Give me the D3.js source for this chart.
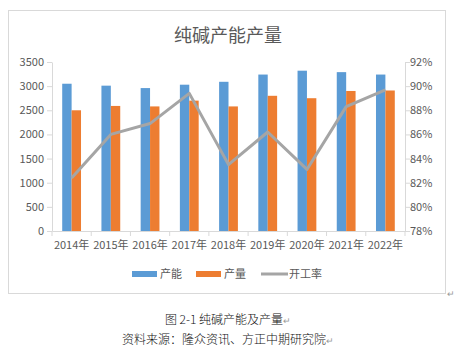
<!DOCTYPE html>
<html>
<head>
<meta charset="utf-8">
<script src="https://cdn.jsdelivr.net/npm/d3@7"></script>
<style>
  body { margin: 0; background: #fff; font-family: "Noto Sans CJK SC", "Noto Sans", sans-serif; }
  .axis text { fill: #595959; font-size: 11px; font-family: "Noto Sans CJK SC", sans-serif; }
  .axis line, .axis path { stroke: #d9d9d9; }
</style>
</head>
<body>
<div id="chart"></div>
<script>
var years = ["2014年", "2015年", "2016年", "2017年", "2018年", "2019年", "2020年", "2021年", "2022年"];
var capacity = [3050, 3010, 2960, 3030, 3090, 3240, 3320, 3290, 3240];
var output = [2500, 2590, 2580, 2700, 2580, 2800, 2750, 2900, 2910];
var rate = [82.4, 86.0, 86.9, 89.4, 83.5, 86.2, 83.1, 88.3, 89.7];
var leftTicks = [0, 500, 1000, 1500, 2000, 2500, 3000, 3500];
var rightTicks = [78, 80, 82, 84, 86, 88, 90, 92];

var width = 465, height = 351;
var plot = {left: 52, right: 405, top: 62, bottom: 231};

var svg = d3.select("#chart").append("svg")
    .attr("width", width)
    .attr("height", height);

// chart frame
svg.append("rect")
    .attr("x", 8.5).attr("y", 10.5)
    .attr("width", 437).attr("height", 283)
    .attr("fill", "#fff")
    .attr("stroke", "#d9d9d9");

svg.append("text")
    .attr("x", 228).attr("y", 42)
    .attr("text-anchor", "middle")
    .attr("fill", "#595959")
    .style("font-size", "18px")
    .text("纯碱产能产量");

var x = d3.scaleBand().domain(years).range([plot.left, plot.right]);
var yL = d3.scaleLinear().domain([0, 3500]).range([plot.bottom, plot.top]);
var yR = d3.scaleLinear().domain([78, 92]).range([plot.bottom, plot.top]);

var barW = 9.4;

// axes
svg.append("g")
    .attr("class", "axis")
    .attr("transform", "translate(" + plot.left + ",0)")
    .call(d3.axisLeft(yL).tickValues(leftTicks).tickSize(5).tickSizeOuter(0)
      .tickFormat(d3.format("d")))
    .call(function(g) { g.selectAll("text").attr("x", -8); });

svg.append("g")
    .attr("class", "axis")
    .attr("transform", "translate(" + plot.right + ",0)")
    .call(d3.axisRight(yR).tickValues(rightTicks).tickSize(5).tickSizeOuter(0)
      .tickFormat(function(d) { return d + "%"; }))
    .call(function(g) { g.selectAll("text").attr("x", 5); });

var xAxis = svg.append("g")
    .attr("class", "axis")
    .attr("transform", "translate(0," + plot.bottom + ")")
    .call(d3.axisBottom(x).tickSize(0).tickSizeOuter(0).tickPadding(10));
// category separators
xAxis.selectAll(".sep")
    .data(years.concat(["end"]))
    .enter().append("line")
    .attr("x1", function(d, i) { return plot.left + i * x.step(); })
    .attr("x2", function(d, i) { return plot.left + i * x.step(); })
    .attr("y1", 0).attr("y2", 5)
    .attr("stroke", "#d9d9d9");

// bars
svg.selectAll(".cap")
    .data(capacity)
    .enter().append("rect")
    .attr("x", function(d, i) { return x(years[i]) + x.bandwidth() / 2 - barW; })
    .attr("y", function(d) { return yL(d); })
    .attr("width", barW)
    .attr("height", function(d) { return plot.bottom - yL(d); })
    .attr("fill", "#5b9bd5");

svg.selectAll(".out")
    .data(output)
    .enter().append("rect")
    .attr("x", function(d, i) { return x(years[i]) + x.bandwidth() / 2; })
    .attr("y", function(d) { return yL(d); })
    .attr("width", barW)
    .attr("height", function(d) { return plot.bottom - yL(d); })
    .attr("fill", "#ed7d31");

var line = d3.line()
    .x(function(d, i) { return x(years[i]) + x.bandwidth() / 2; })
    .y(function(d) { return yR(d); });

svg.append("path")
    .datum(rate)
    .attr("d", line)
    .attr("fill", "none")
    .attr("stroke", "#a5a5a5")
    .attr("stroke-width", 3)
    .attr("stroke-linejoin", "round");

// legend
var legend = svg.append("g").attr("transform", "translate(0,274)");
var items = [
  {name: "产能", color: "#5b9bd5", type: "rect", x: 132},
  {name: "产量", color: "#ed7d31", type: "rect", x: 196},
  {name: "开工率", color: "#a5a5a5", type: "line", x: 261}
];
items.forEach(function(it) {
  if (it.type === "rect") {
    legend.append("rect").attr("x", it.x).attr("y", -3).attr("width", 25).attr("height", 6).attr("fill", it.color);
  } else {
    legend.append("line").attr("x1", it.x).attr("x2", it.x + 27).attr("y1", 0).attr("y2", 0)
      .attr("stroke", it.color).attr("stroke-width", 3);
  }
  legend.append("text")
    .attr("x", it.x + 28)
    .attr("y", 4)
    .attr("fill", "#595959")
    .style("font-size", "11px")
    .text(it.name);
});

// paragraph marks + caption
svg.append("text").attr("x", 447).attr("y", 297).attr("fill", "#999").style("font-size", "9px").text("↵");

var cap1 = svg.append("text")
    .attr("x", 228).attr("y", 324)
    .attr("text-anchor", "middle")
    .attr("fill", "#111")
    .style("font-size", "12px")
    .style("font-weight", 300);
cap1.append("tspan").text("图 2-1 纯碱产能及产量");
cap1.append("tspan").attr("fill", "#999").style("font-size", "9px").text("↵");

var cap2 = svg.append("text")
    .attr("x", 228).attr("y", 344)
    .attr("text-anchor", "middle")
    .attr("fill", "#111")
    .style("font-size", "12px")
    .style("font-weight", 300);
cap2.append("tspan").text("资料来源：隆众资讯、方正中期研究院");
cap2.append("tspan").attr("fill", "#999").style("font-size", "9px").text("↵");
</script>
</body>
</html>
